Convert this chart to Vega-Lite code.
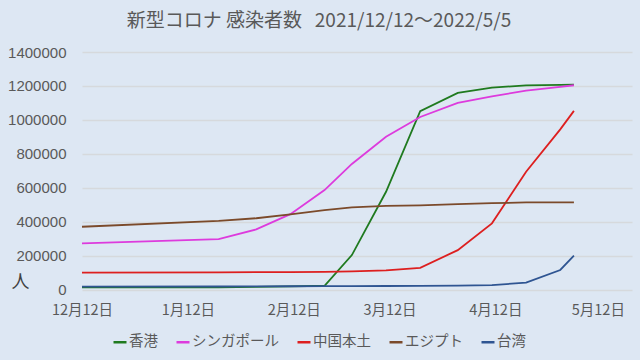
{
  "$schema": "https://vega.github.io/schema/vega-lite/v6.json",
  "width": 550,
  "height": 237.5,
  "autosize": {"type": "none"},
  "padding": {"left": 82, "top": 52, "right": 8, "bottom": 70.5},
  "background": "#dde7f3",
  "title": {
    "text": "新型コロナ 感染者数\u00a0\u00a0 2021/12/12～2022/5/5",
    "anchor": "middle",
    "frame": "group",
    "dx": -38,
    "offset": 14,
    "fontSize": 19,
    "fontWeight": "normal",
    "color": "#595959",
    "font": "Noto Sans CJK JP"
  },
  "config": {
    "view": {"stroke": null},
    "font": "Noto Sans CJK JP"
  },
  "data": {
    "values": [
      {"date": "2021-12-12", "country": "香港", "value": 12500},
      {"date": "2022-01-21", "country": "香港", "value": 13200},
      {"date": "2022-02-01", "country": "香港", "value": 15000},
      {"date": "2022-02-11", "country": "香港", "value": 18000},
      {"date": "2022-02-21", "country": "香港", "value": 22000},
      {"date": "2022-03-01", "country": "香港", "value": 203000},
      {"date": "2022-03-11", "country": "香港", "value": 576000},
      {"date": "2022-03-21", "country": "香港", "value": 1051000},
      {"date": "2022-04-01", "country": "香港", "value": 1159000},
      {"date": "2022-04-11", "country": "香港", "value": 1190000},
      {"date": "2022-04-21", "country": "香港", "value": 1203000},
      {"date": "2022-05-01", "country": "香港", "value": 1206000},
      {"date": "2022-05-05", "country": "香港", "value": 1208000},
      {"date": "2021-12-12", "country": "シンガポール", "value": 272000},
      {"date": "2022-01-21", "country": "シンガポール", "value": 297000},
      {"date": "2022-02-01", "country": "シンガポール", "value": 354000},
      {"date": "2022-02-11", "country": "シンガポール", "value": 444000},
      {"date": "2022-02-21", "country": "シンガポール", "value": 586000},
      {"date": "2022-03-01", "country": "シンガポール", "value": 740000},
      {"date": "2022-03-11", "country": "シンガポール", "value": 900000},
      {"date": "2022-03-21", "country": "シンガポール", "value": 1017000},
      {"date": "2022-04-01", "country": "シンガポール", "value": 1100000},
      {"date": "2022-04-11", "country": "シンガポール", "value": 1139000},
      {"date": "2022-04-21", "country": "シンガポール", "value": 1172000},
      {"date": "2022-05-01", "country": "シンガポール", "value": 1195000},
      {"date": "2022-05-05", "country": "シンガポール", "value": 1204000},
      {"date": "2021-12-12", "country": "中国本土", "value": 99000},
      {"date": "2022-01-21", "country": "中国本土", "value": 101000},
      {"date": "2022-02-01", "country": "中国本土", "value": 102000},
      {"date": "2022-02-11", "country": "中国本土", "value": 103000},
      {"date": "2022-02-21", "country": "中国本土", "value": 104000},
      {"date": "2022-03-01", "country": "中国本土", "value": 107000},
      {"date": "2022-03-11", "country": "中国本土", "value": 113000},
      {"date": "2022-03-21", "country": "中国本土", "value": 128000},
      {"date": "2022-04-01", "country": "中国本土", "value": 232000},
      {"date": "2022-04-11", "country": "中国本土", "value": 390000},
      {"date": "2022-04-21", "country": "中国本土", "value": 694000},
      {"date": "2022-05-01", "country": "中国本土", "value": 944000},
      {"date": "2022-05-05", "country": "中国本土", "value": 1053000},
      {"date": "2021-12-12", "country": "エジプト", "value": 370000},
      {"date": "2022-01-21", "country": "エジプト", "value": 405000},
      {"date": "2022-02-01", "country": "エジプト", "value": 420000},
      {"date": "2022-02-11", "country": "エジプト", "value": 443000},
      {"date": "2022-02-21", "country": "エジプト", "value": 468000},
      {"date": "2022-03-01", "country": "エジプト", "value": 484000},
      {"date": "2022-03-11", "country": "エジプト", "value": 493000},
      {"date": "2022-03-21", "country": "エジプト", "value": 496000},
      {"date": "2022-04-01", "country": "エジプト", "value": 503000},
      {"date": "2022-04-11", "country": "エジプト", "value": 509000},
      {"date": "2022-04-21", "country": "エジプト", "value": 513000},
      {"date": "2022-05-01", "country": "エジプト", "value": 514000},
      {"date": "2022-05-05", "country": "エジプト", "value": 514000},
      {"date": "2021-12-12", "country": "台湾", "value": 16700},
      {"date": "2022-01-21", "country": "台湾", "value": 17800},
      {"date": "2022-02-01", "country": "台湾", "value": 18700},
      {"date": "2022-02-11", "country": "台湾", "value": 19300},
      {"date": "2022-02-21", "country": "台湾", "value": 19600},
      {"date": "2022-03-01", "country": "台湾", "value": 19900},
      {"date": "2022-03-11", "country": "台湾", "value": 20500},
      {"date": "2022-03-21", "country": "台湾", "value": 21300},
      {"date": "2022-04-01", "country": "台湾", "value": 23000},
      {"date": "2022-04-11", "country": "台湾", "value": 26000},
      {"date": "2022-04-21", "country": "台湾", "value": 40000},
      {"date": "2022-05-01", "country": "台湾", "value": 115000},
      {"date": "2022-05-05", "country": "台湾", "value": 199000}
    ]
  },
  "mark": {"type": "line", "strokeWidth": 1.8},
  "encoding": {
    "x": {
      "field": "date",
      "type": "temporal",
      "scale": {
        "type": "utc",
        "domain": [
          {"year": 2021, "month": 12, "date": 12, "utc": true},
          {"year": 2022, "month": 5, "date": 22, "utc": true}
        ],
        "nice": false
      },
      "axis": {
        "title": null,
        "values": [
          {"year": 2021, "month": 12, "date": 12, "utc": true},
          {"year": 2022, "month": 1, "date": 12, "utc": true},
          {"year": 2022, "month": 2, "date": 12, "utc": true},
          {"year": 2022, "month": 3, "date": 12, "utc": true},
          {"year": 2022, "month": 4, "date": 12, "utc": true},
          {"year": 2022, "month": 5, "date": 12, "utc": true}
        ],
        "format": "%-m月%-d日",
        "grid": false,
        "domain": false,
        "ticks": false,
        "labelFlush": false,
        "labelOverlap": false,
        "labelPadding": 14,
        "labelFontSize": 14.5,
        "labelColor": "#595959",
        "labelFont": "Noto Sans CJK JP"
      }
    },
    "y": {
      "field": "value",
      "type": "quantitative",
      "scale": {"domain": [0, 1400000], "nice": false},
      "axis": {
        "title": "人",
        "titleAngle": 0,
        "titleX": -62,
        "titleY": 230,
        "titleAlign": "center",
        "titleBaseline": "middle",
        "titleFontSize": 18,
        "titleFontWeight": "normal",
        "titleColor": "#404040",
        "titleFont": "Noto Sans CJK JP",
        "values": [0, 200000, 400000, 600000, 800000, 1000000, 1200000, 1400000],
        "format": "d",
        "domain": false,
        "ticks": false,
        "labelPadding": 16,
        "labelFontSize": 15,
        "labelColor": "#595959",
        "labelFont": "Liberation Sans",
        "grid": true,
        "gridColor": "#d6d9dc",
        "gridWidth": 1.6
      }
    },
    "color": {
      "field": "country",
      "type": "nominal",
      "scale": {
        "domain": ["香港", "シンガポール", "中国本土", "エジプト", "台湾"],
        "range": ["#1f7a1f", "#dd3bdd", "#dd1f1f", "#7b4a2a", "#2f5592"]
      },
      "legend": {
        "title": null,
        "orient": "none",
        "direction": "horizontal",
        "legendX": 30,
        "legendY": 282,
        "symbolType": "stroke",
        "symbolSize": 169,
        "symbolStrokeWidth": 2.5,
        "labelOffset": 1,
        "columnPadding": 13,
        "labelFontSize": 14.5,
        "labelColor": "#595959",
        "labelFont": "Noto Sans CJK JP"
      }
    }
  }
}
